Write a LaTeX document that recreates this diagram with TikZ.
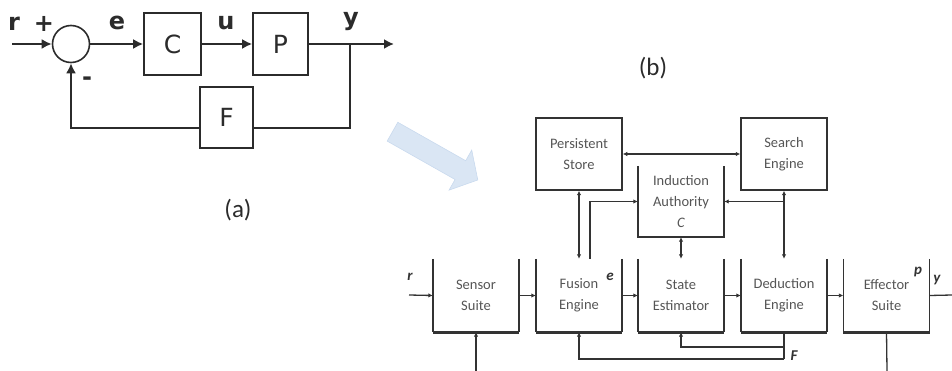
\documentclass[tikz,border=0pt]{standalone}
\usepackage{fontspec}
\setmainfont{Carlito}
\newfontfamily\djv{DejaVu Sans}
\usetikzlibrary{arrows.meta,calc}
\definecolor{lineA}{HTML}{2B2B2B}
\definecolor{lineB}{HTML}{333333}
\definecolor{txtB}{HTML}{555555}
\definecolor{arrowblue}{HTML}{DAE6F4}
\definecolor{arrowblueedge}{HTML}{C9DAEE}
\tikzset{
  ablock/.style={draw=lineA, line width=1.6pt, minimum width=#1, inner sep=0pt, font=\djv\fontsize{25}{25}\selectfont, text=lineA},
  aline/.style={draw=lineA, line width=1.9pt},
  aarrow/.style={aline, -{Latex[length=10pt,width=10pt]}},
  alabel/.style={font=\djv\bfseries\fontsize{24}{24}\selectfont, text=lineA, inner sep=0pt},
  capl/.style={font=\fontsize{25}{25}\selectfont, text=lineA, inner sep=0pt},
  bnode/.style={minimum width=86pt, inner sep=0pt, align=center, font=\fontsize{14.5}{21}\selectfont, text=txtB},
  bline/.style={draw=lineB, line width=1.3pt},
  bside/.style={draw=lineB, line width=1.5pt},
  bbase/.style={draw=lineB, line width=2.6pt},
  sarrow/.style={bline, -{Latex[length=4.5pt,width=4.5pt]}},
  darrow/.style={bline, {Latex[length=4.5pt,width=4.5pt]}-{Latex[length=4.5pt,width=4.5pt]}},
  blabel/.style={font=\bfseries\itshape\fontsize{15}{15}\selectfont, text=lineB, inner sep=0pt},
}
\begin{document}
\begin{tikzpicture}[x=1pt,y=-1pt]
\useasboundingbox (0,0) rectangle (952,371);
% ---------------- (a) ----------------
\node[circle, draw=lineA, line width=1.6pt, minimum size=37pt, inner sep=0pt] (S) at (71,44) {};
\node[ablock=57pt, minimum height=62pt] (C) at (172.5,44) {C};
\node[ablock=55pt, minimum height=62pt] (P) at (280.5,44) {P};
\node[ablock=53pt, minimum height=61pt] (F) at (226.5,117.5) {F};
\coordinate (ain) at (12,44);
\coordinate (aout) at (394,44);
\coordinate (abr) at (350,44);
\draw[aarrow] (ain) -- (S.west);
\draw[aarrow] (S.east) -- (C.west);
\draw[aarrow] (C.east) -- (P.west);
\draw[aarrow] (P.east) -- (aout);
\draw[aline] (abr) |- ([yshift=-10.5pt]F.east);
\draw[aarrow] ([yshift=-10.5pt]F.west) -| (S.south);
\node[alabel] (lr) at (14,24) {r};
\node[alabel] (lplus) at (44,24) {+};
\node[alabel] (le) at (117,23) {e};
\node[alabel] (lu) at (226,23) {u};
\node[alabel] (ly) at (351,22) {y};
\node[alabel] (lminus) at (87,81) {-};
\node[capl] (capa) at (238,210) {(a)};
\node[capl] (capb) at (653,68) {(b)};
% ---------------- blue arrow ----------------
\begin{scope}[shift={(392.5,131.7)}, rotate=-29.5]
\fill[arrowblue, draw=arrowblueedge, line width=0.6pt]
  (0,-10.8) -- (78,-10.8) -- (78,-23) -- (98,0) -- (78,23) -- (78,10.8) -- (0,10.8) -- cycle;
\end{scope}
% ---------------- (b) ----------------
\node[bnode, minimum height=72pt, draw=lineB, line width=1.5pt] (PS) at (579,154) {Persistent\\Store};
\node[bnode, minimum height=72pt, draw=lineB, line width=1.5pt] (SE) at (784,154) {Search\\Engine};
\node[bnode, minimum height=71pt] (IA) at (681,201.5) {Induction\\Authority\\\textit{C}};
\draw[bside] (IA.north west) -- (IA.south west) -- (IA.south east) -- (IA.north east);
\foreach \n/\x/\t in {SS/476/{Sensor\\Suite}, FE/579/{Fusion\\Engine}, ST/681/{State\\Estimator}, DE/784/{Deduction\\Engine}, EF/886.5/{Effector\\Suite}} {
  \node[bnode, minimum height=73pt] (\n) at (\x,295.5) {\t};
  \draw[bside] (\n.north west) -- (\n.south west);
  \draw[bside] (\n.north east) -- (\n.south east);
  \draw[bbase] (\n.south west) -- (\n.south east);
}
% top connectors
\draw[darrow] (PS.east) -- (SE.west);
\draw[darrow] (PS.south) -- (FE.north);
\draw[sarrow] ([xshift=11pt]FE.north) |- (IA.west);
\draw[darrow] (IA.south) -- (ST.north);
\draw[darrow] (SE.south) -- (DE.north);
\coordinate (sbr) at (SE.south |- IA.east);
\draw[sarrow] (sbr) -- (IA.east);
% row connectors
\coordinate (rin) at (409,295);
\coordinate (yout) at (952,295);
\draw[sarrow] (rin) -- (SS.west);
\draw[sarrow] (SS.east) -- (FE.west);
\draw[sarrow] (FE.east) -- (ST.west);
\draw[sarrow] (ST.east) -- (DE.west);
\draw[sarrow] (DE.east) -- (EF.west);
\draw[bline] (EF.east) -- (yout);
% bottom
\coordinate (sbot) at (476,371);
\coordinate (ebot) at (887,371);
\draw[sarrow] (sbot) -- (SS.south);
\draw[bline] (EF.south) -- (ebot);
\coordinate (f1) at (784,359);
\coordinate (f2) at (784,347);
\draw[bline] (DE.south) -- (f1);
\draw[sarrow] (f1) -| (FE.south);
\draw[sarrow] (f2) -| (ST.south);
% labels
\node[blabel] (br) at (410,277) {r};
\node[blabel] (be) at (610,277) {e};
\node[blabel] (bp) at (918,272) {p};
\node[blabel] (by) at (937,280) {y};
\node[blabel] (bF) at (794,356) {F};
\end{tikzpicture}
\end{document}
